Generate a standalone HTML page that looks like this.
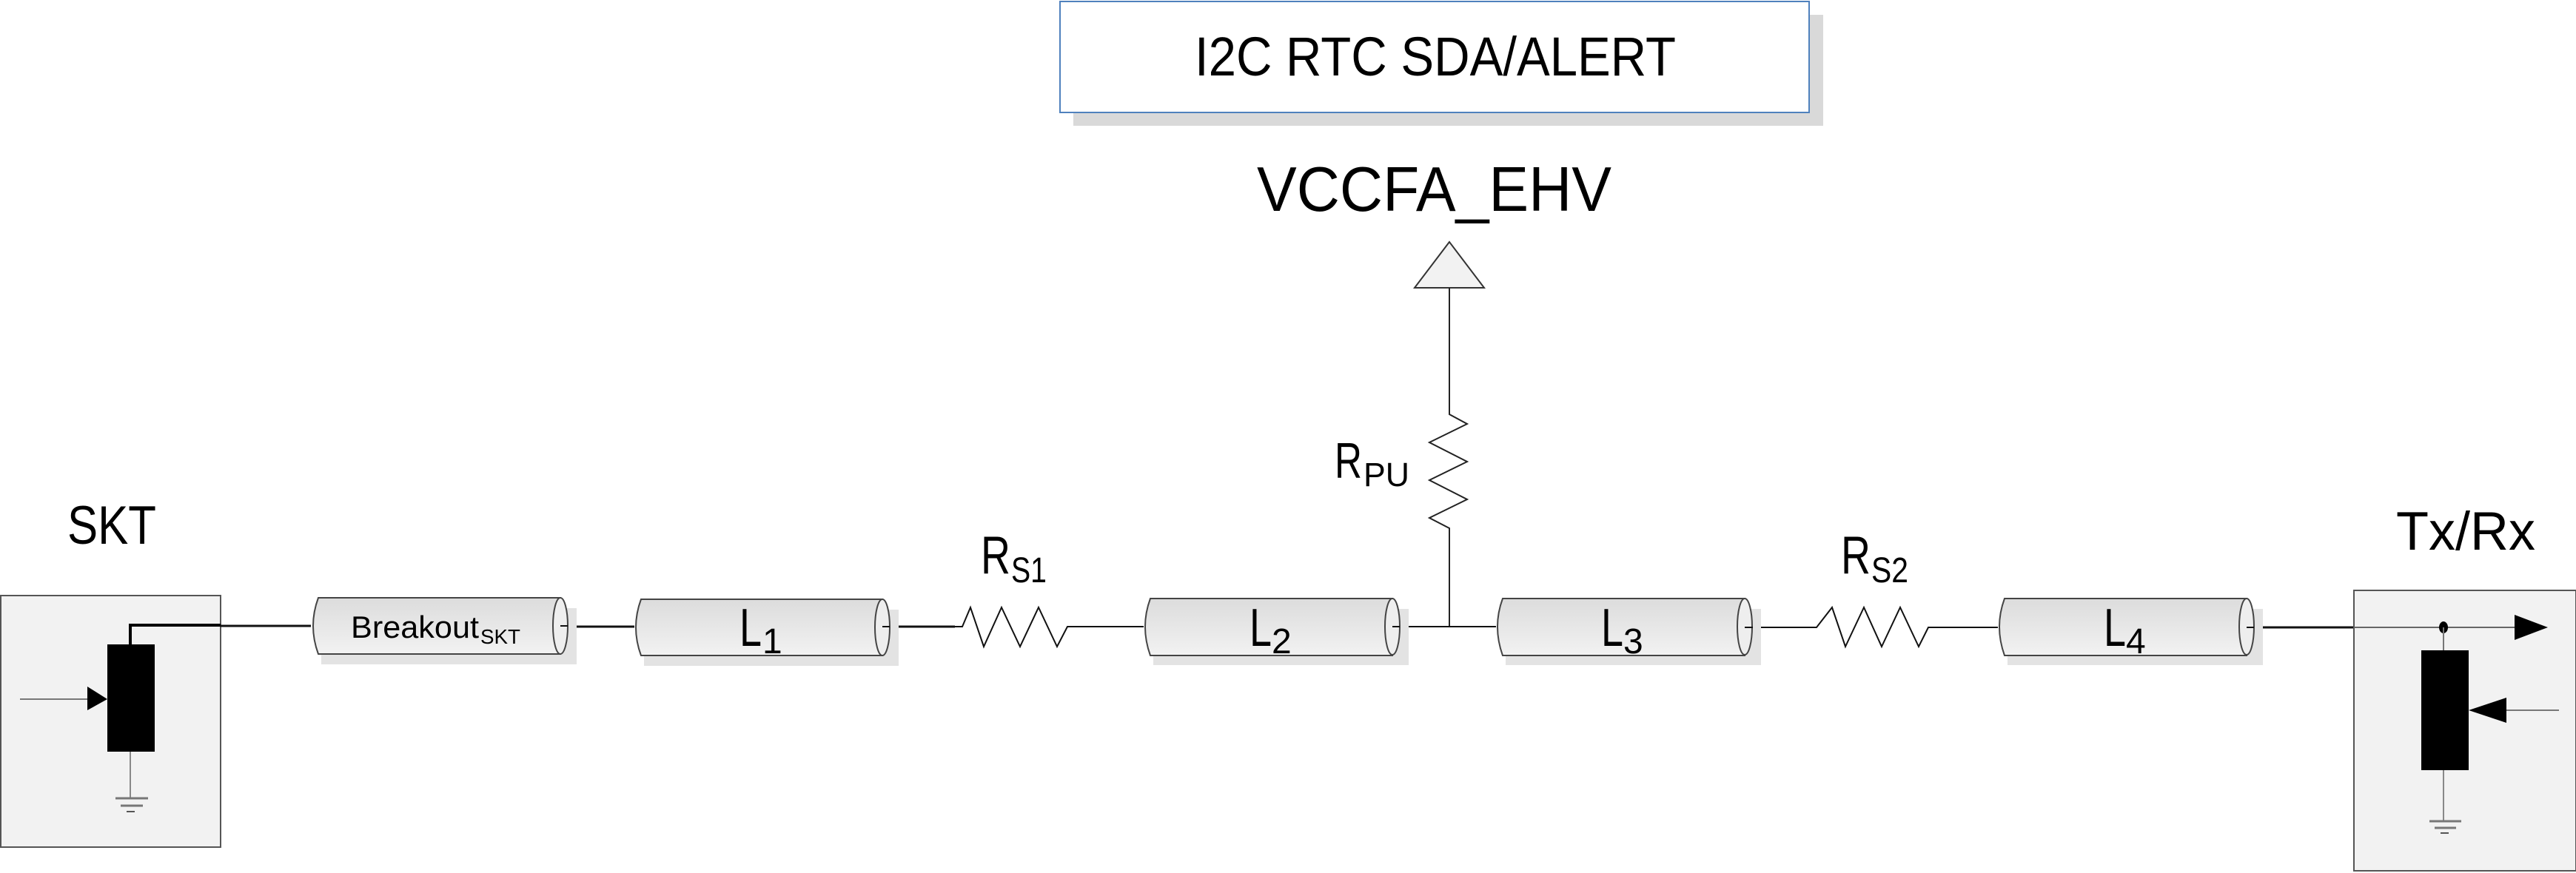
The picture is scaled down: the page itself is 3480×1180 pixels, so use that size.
<!DOCTYPE html>
<html><head><meta charset="utf-8"><style>
html,body{margin:0;padding:0;background:#fff;}
svg{display:block;}
text{font-family:"Liberation Sans",sans-serif;fill:#000;}
</style></head><body>
<svg width="3480" height="1180" viewBox="0 0 3480 1180" xmlns="http://www.w3.org/2000/svg">
<defs>
<linearGradient id="cg" x1="0" y1="0" x2="0" y2="1">
<stop offset="0" stop-color="#dcdcdc"/><stop offset="1" stop-color="#f2f2f2"/>
</linearGradient>
<g id="cyl">
</g>
</defs>

<!-- top box -->
<rect x="1450" y="20" width="1013" height="150" fill="#d9d9d9"/>
<rect x="1432" y="2" width="1012" height="150" fill="#fff" stroke="#4f81bd" stroke-width="2"/>
<text x="1614" y="102" font-size="74" textLength="650" lengthAdjust="spacingAndGlyphs">I2C RTC SDA/ALERT</text>

<text x="1698" y="285" font-size="85" textLength="479" lengthAdjust="spacingAndGlyphs">VCCFA_EHV</text>
<polygon points="1958,327 1911,389 2005,389" fill="#f2f2f2" stroke="#333" stroke-width="2"/>
<polyline points="1958,389 1958,560 1982,573 1931,598 1982,624 1931,649 1982,675 1931,700 1958,714 1958,847" fill="none" stroke="#222" stroke-width="2"/>
<text x="1803" y="646" font-size="68" textLength="37" lengthAdjust="spacingAndGlyphs">R</text>
<text x="1842" y="657" font-size="45" textLength="62" lengthAdjust="spacingAndGlyphs">PU</text>

<!-- left box -->
<rect x="1" y="805" width="297" height="340" fill="#f2f2f2" stroke="#555" stroke-width="2"/>
<text x="91" y="735" font-size="73" textLength="120" lengthAdjust="spacingAndGlyphs">SKT</text>
<polyline points="176,871 176,845 298,845" fill="none" stroke="#000" stroke-width="4"/>
<rect x="145" y="871" width="64" height="145" fill="#000"/>
<line x1="27" y1="945" x2="120" y2="945" stroke="#777" stroke-width="2"/>
<polygon points="118,928 145,945 118,960" fill="#000"/>
<line x1="176" y1="1016" x2="176" y2="1079" stroke="#888" stroke-width="2"/>
<line x1="156" y1="1079" x2="200" y2="1079" stroke="#777" stroke-width="3"/>
<line x1="163" y1="1089" x2="193" y2="1089" stroke="#777" stroke-width="3"/>
<line x1="171" y1="1097" x2="182" y2="1097" stroke="#555" stroke-width="2"/>

<!-- connection lines -->
<g stroke="#111" stroke-width="3" fill="none">
<line x1="298" y1="846" x2="420" y2="846"/>
<line x1="765" y1="847" x2="857" y2="847"/>
<line x1="1200" y1="847" x2="1290" y2="847"/>
<polyline points="1290,847 1300,847 1311,821 1329,874 1353,821 1378,874 1403,821 1428,874 1442,847 1545,847" stroke-width="2"/>
<line x1="1889" y1="847" x2="2021" y2="847" stroke-width="2"/>
<polyline points="2366,848 2454,848 2475,821 2493,874 2518,821 2542,874 2567,821 2592,874 2605,848 2699,848" stroke-width="2"/>
<line x1="3043" y1="848" x2="3180" y2="848"/>
</g>

<!-- cylinders -->
<g stroke="#444" stroke-width="2">
<!-- Breakout -->
<rect x="434" y="822" width="345" height="76" fill="#e3e3e3" stroke="none"/>
<path d="M430,808 L757,808 L757,884 L430,884 Q416,846 430,808 Z" fill="url(#cg)"/>
<ellipse cx="757" cy="846" rx="10" ry="38" fill="#eee"/>
<!-- L1 -->
<rect x="870" y="824" width="344" height="76" fill="#e3e3e3" stroke="none"/>
<path d="M866,810 L1192,810 L1192,886 L866,886 Q852,848 866,810 Z" fill="url(#cg)"/>
<ellipse cx="1192" cy="848" rx="10" ry="38" fill="#eee"/>
<!-- L2 -->
<rect x="1558" y="823" width="345" height="76" fill="#e3e3e3" stroke="none"/>
<path d="M1554,809 L1881,809 L1881,886 L1554,886 Q1540,847 1554,809 Z" fill="url(#cg)"/>
<ellipse cx="1881" cy="847" rx="10" ry="38" fill="#eee"/>
<!-- L3 -->
<rect x="2034" y="823" width="345" height="76" fill="#e3e3e3" stroke="none"/>
<path d="M2030,809 L2357,809 L2357,886 L2030,886 Q2016,847 2030,809 Z" fill="url(#cg)"/>
<ellipse cx="2357" cy="847" rx="10" ry="38" fill="#eee"/>
<!-- L4 -->
<rect x="2712" y="823" width="345" height="76" fill="#e3e3e3" stroke="none"/>
<path d="M2708,809 L3035,809 L3035,886 L2708,886 Q2694,847 2708,809 Z" fill="url(#cg)"/>
<ellipse cx="3035" cy="847" rx="10" ry="38" fill="#eee"/>
</g>
<g stroke="#111" stroke-width="2">
<line x1="757" y1="846" x2="767" y2="846"/><line x1="1192" y1="847" x2="1202" y2="847"/>
<line x1="1881" y1="847" x2="1891" y2="847"/><line x1="2357" y1="848" x2="2368" y2="848"/>
<line x1="3035" y1="848" x2="3045" y2="848"/>
</g>

<text x="474" y="862" font-size="42" textLength="173" lengthAdjust="spacingAndGlyphs">Breakout</text>
<text x="649" y="870" font-size="28" textLength="54" lengthAdjust="spacingAndGlyphs">SKT</text>

<text x="999" y="873" font-size="72" textLength="30" lengthAdjust="spacingAndGlyphs">L</text>
<text x="1030" y="883" font-size="48">1</text>
<text x="1688" y="873" font-size="72" textLength="30" lengthAdjust="spacingAndGlyphs">L</text>
<text x="1718" y="883" font-size="48">2</text>
<text x="2163" y="873" font-size="72" textLength="30" lengthAdjust="spacingAndGlyphs">L</text>
<text x="2193" y="883" font-size="48">3</text>
<text x="2842" y="873" font-size="72" textLength="30" lengthAdjust="spacingAndGlyphs">L</text>
<text x="2872" y="883" font-size="48">4</text>

<text x="1325" y="775" font-size="72" textLength="40" lengthAdjust="spacingAndGlyphs">R</text>
<text x="1366" y="787" font-size="48" textLength="48" lengthAdjust="spacingAndGlyphs">S1</text>
<text x="2487" y="775" font-size="72" textLength="40" lengthAdjust="spacingAndGlyphs">R</text>
<text x="2528" y="787" font-size="48" textLength="50" lengthAdjust="spacingAndGlyphs">S2</text>

<!-- right box -->
<rect x="3180" y="798" width="300" height="379" fill="#f2f2f2" stroke="#555" stroke-width="2"/>
<text x="3237" y="743" font-size="73" textLength="188" lengthAdjust="spacingAndGlyphs">Tx/Rx</text>
<line x1="3180" y1="848" x2="3400" y2="848" stroke="#666" stroke-width="2"/>
<polygon points="3397,831 3442,848 3397,865" fill="#000"/>
<ellipse cx="3301" cy="848" rx="6" ry="8" fill="#000"/>
<line x1="3301" y1="848" x2="3301" y2="879" stroke="#777" stroke-width="2"/>
<rect x="3271" y="879" width="64" height="162" fill="#000"/>
<line x1="3380" y1="960" x2="3457" y2="960" stroke="#777" stroke-width="2"/>
<polygon points="3335,960 3386,943 3386,977" fill="#000"/>
<line x1="3301" y1="1041" x2="3301" y2="1110" stroke="#888" stroke-width="2"/>
<line x1="3282" y1="1110" x2="3325" y2="1110" stroke="#777" stroke-width="3"/>
<line x1="3289" y1="1119" x2="3318" y2="1119" stroke="#777" stroke-width="3"/>
<line x1="3297" y1="1126" x2="3308" y2="1126" stroke="#555" stroke-width="2"/>
</svg>
</body></html>
